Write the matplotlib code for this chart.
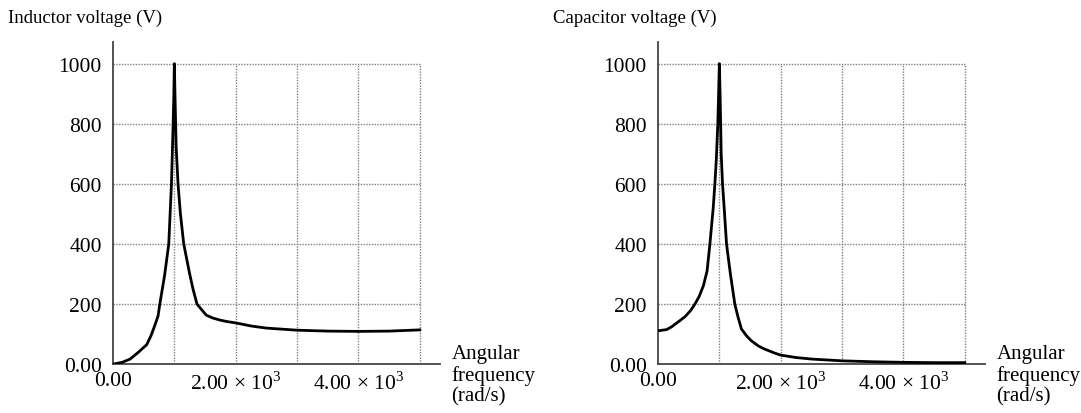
import matplotlib
matplotlib.use("Agg")
import matplotlib.pyplot as plt

plt.rcParams['font.family'] = ['Liberation Serif', 'DejaVu Serif']
plt.rcParams['mathtext.fontset'] = 'custom'
plt.rcParams['mathtext.rm'] = 'Liberation Serif'

# values
inductor_w = [0, 150, 280, 410, 550, 620, 680, 735, 763, 840, 909, 953, 975, 990, 1000,
              1012, 1030, 1060, 1099, 1153, 1250, 1304, 1369, 1450, 1521, 1620, 1737,
              1850, 2008, 2250, 2500, 3000, 3500, 4000, 4500, 5000]
inductor_v = [0, 6, 17, 39, 65, 95, 128, 161, 200, 294, 400, 600, 760, 880, 1000,
              880, 720, 600, 500, 400, 300, 250, 200, 180, 163, 154, 147,
              142, 137, 127, 120, 113, 110, 109, 110, 114]

capacitor_w = [0, 141, 220, 358, 440, 530, 602, 670, 740, 800, 846, 900, 927, 950, 975,
               988, 1000, 1012, 1030, 1052, 1085, 1117, 1180, 1252, 1300, 1360, 1440,
               1520, 1640, 1740, 1900, 2000, 2250, 2500, 3000, 3500, 4000, 4500, 5000]
capacitor_v = [111, 115, 124, 145, 158, 178, 200, 225, 261, 310, 400, 520, 600, 680, 800,
               900, 1000, 900, 700, 600, 500, 400, 300, 200, 160, 117, 95,
               78, 60, 50, 37, 30, 22, 17, 11, 8, 6, 5, 5]

y_ticks = [0, 200, 400, 600, 800, 1000]
y_labels = ['0.00', '200', '400', '600', '800', '1000']
x_ticks = [0, 2000, 4000]
x_labels = ['0.00', r'2.00 × 10$^{3}$', r'4.00 × 10$^{3}$']
grid_x = [1000, 2000, 3000, 4000, 5000]
grid_y = [200, 400, 600, 800, 1000]

fig = plt.figure(figsize=(10.81, 4.14), dpi=100)


def draw_panel(left, w, v, title):
    ax = fig.add_axes([left, 0.118, 0.3025, 0.778])
    ax.set_xlim(0, 5330)
    ax.set_ylim(0, 1072)
    ax.hlines(grid_y, 0, 5000, colors='#808080', linestyles=(0, (1, 1)), linewidth=1.0)
    ax.vlines(grid_x, 0, 1000, colors='#808080', linestyles=(0, (1, 1)), linewidth=1.0)
    ax.plot(w, v, color='black', linewidth=2.0, solid_joinstyle='round', zorder=3)
    for side in ['top', 'right']:
        ax.spines[side].set_visible(False)
    for side in ['left', 'bottom']:
        ax.spines[side].set_color('#444444')
        ax.spines[side].set_linewidth(1.3)
    ax.set_yticks(y_ticks, y_labels)
    ax.set_xticks(x_ticks, x_labels)
    ax.tick_params(length=0, labelsize=15.5, pad=8)
    ax.tick_params(axis='x', pad=5)
    fig.text(left - 0.097, 0.935, title, fontsize=13.5, va='bottom', ha='left')
    fig.text(left + 0.313, 0.167, 'Angular\nfrequency\n(rad/s)', fontsize=15,
             va='top', ha='left', linespacing=1.12)
    return ax


draw_panel(113 / 1081, inductor_w, inductor_v, 'Inductor voltage (V)')
draw_panel(658 / 1081, capacitor_w, capacitor_v, 'Capacitor voltage (V)')

fig.savefig('out.png', dpi=100)
